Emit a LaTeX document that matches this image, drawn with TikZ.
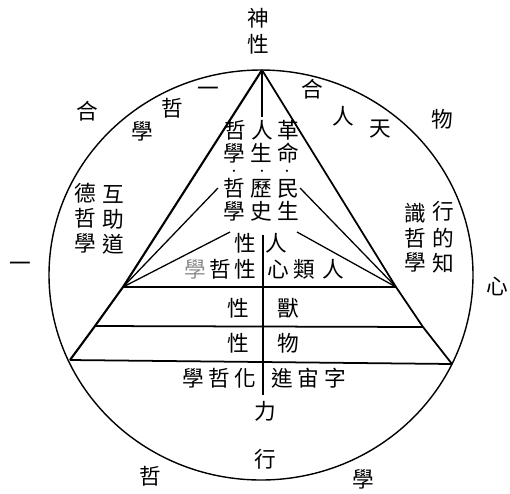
\documentclass[tikz,border=0pt]{standalone}
\usepackage{fontspec}
\newfontfamily\cjk{Noto Sans CJK TC}
\usetikzlibrary{calc}

\tikzset{
  zi/.style={font=\cjk\fontsize{18.5}{20}\selectfont, inner sep=0pt,
    text height=0.8em, text depth=0.06em},
  dim zi/.style={zi, text=black!45},
  dotzi/.style={font=\normalfont\fontsize{13}{13}\bfseries, inner sep=0pt,
    text height=0.3em, text depth=0pt},
  rim/.style={line width=1.2pt},
  side/.style={line width=1.8pt, line join=round},
  layer/.style={line width=1.5pt},
  ray/.style={line width=1.1pt}
}

\begin{document}
\begin{tikzpicture}[x=0.03cm, y=-0.03cm]
    \useasboundingbox (0,0) rectangle (510,493);

    % outer circle
    \draw[rim] (261,275) ellipse [x radius=212, y radius=205];

    % triangle corners and layer ends
    \coordinate (apex) at (262,70);
    \coordinate (L1) at (123,287);
    \coordinate (L2) at (95,326);
    \coordinate (lbase) at (70,360);
    \coordinate (R1) at (396,287);
    \coordinate (R2) at (423,327);
    \coordinate (rbase) at (452,364);

    % triangle
    \draw[side] (lbase) -- (L2) -- (L1) -- (apex);
    \draw[side, line width=1.5pt] (apex) -- (R1) -- (R2) -- (rbase);
    \draw[layer] (lbase) -- (rbase);
    \draw[layer] (L1) -- (R1);
    \draw[layer] (L2) -- (R2);

    % rays from the side corners
    \coordinate (la) at (218,188);
    \coordinate (lb) at (230,232);
    \coordinate (ra) at (300,188);
    \coordinate (rb) at (297,232);
    \draw[ray] (L1) -- (la);
    \draw[ray] (L1) -- (lb);
    \draw[ray] (R1) -- (ra);
    \draw[ray] (R1) -- (rb);

    % middle divider
    \coordinate (vtop) at (262,117);
    \coordinate (vmid) at (263,235);
    \coordinate (vend) at (263,395);
    \draw[ray] (apex) -- (vtop);
    \draw[ray] (vmid) -- (vend);

    % top label
    \node[zi] (shen) at (258,22) {神};
    \node[zi] (shenxing) at (258,48) {性};

    % outer ring, upper left
    \node[zi] (ul1) at (87,115) {合};
    \node[zi] (ul2) at (142,135) {學};
    \node[zi] (ul3) at (172,112) {哲};
    \node[zi] (ul4) at (208,92) {一};

    % outer ring, upper right
    \node[zi] (ur1) at (312,93) {合};
    \node[zi] (ur2) at (343,120) {人};
    \node[zi] (ur3) at (380,132) {天};
    \node[zi] (ur4) at (442,123) {物};

    % outer ring, sides and bottom
    \node[zi] (lside) at (20,267) {一};
    \node[zi] (rside) at (497,290) {心};
    \node[zi] (bot1) at (150,480) {哲};
    \node[zi] (bot2) at (265,463) {行};
    \node[zi] (bot3) at (363,483) {學};

    % left columns
    \node[zi] (de1) at (85,197) {德};
    \node[zi] (de2) at (85,222) {哲};
    \node[zi] (de3) at (85,247) {學};
    \node[zi] (hu1) at (113,198) {互};
    \node[zi] (hu2) at (113,223) {助};
    \node[zi] (hu3) at (113,248) {道};

    % right columns
    \node[zi] (shi1) at (415,217) {識};
    \node[zi] (shi2) at (415,242) {哲};
    \node[zi] (shi3) at (415,266) {學};
    \node[zi] (xing1) at (443,215) {行};
    \node[zi] (xing2) at (443,242) {的};
    \node[zi] (xing3) at (443,267) {知};

    % centre columns
    \node[zi] (ca1) at (235,134) {哲};
    \node[zi] (ca2) at (234,157) {學};
    \node[dotzi] (ca3) at (234,175) {·};
    \node[zi] (ca4) at (234,192) {哲};
    \node[zi] (ca5) at (234,215) {學};
    \node[zi] (cb1) at (262,134) {人};
    \node[zi] (cb2) at (261,157) {生};
    \node[dotzi] (cb3) at (262,175) {·};
    \node[zi] (cb4) at (261,192) {歷};
    \node[zi] (cb5) at (261,215) {史};
    \node[zi] (cc1) at (288,134) {革};
    \node[zi] (cc2) at (288,157) {命};
    \node[dotzi] (cc3) at (287,175) {·};
    \node[zi] (cc4) at (288,192) {民};
    \node[zi] (cc5) at (288,215) {生};

    % human layer
    \node[zi] (h1) at (245,247) {性};
    \node[zi] (h2) at (276,247) {人};
    \node[dim zi] (h3) at (195,273) {學};
    \node[zi] (h4) at (220,273) {哲};
    \node[zi] (h5) at (245,273) {性};
    \node[zi] (h6) at (278,273) {心};
    \node[zi] (h7) at (304,273) {類};
    \node[zi] (h8) at (333,273) {人};

    % beast and matter layers
    \node[zi] (b1) at (238,312) {性};
    \node[zi] (b2) at (288,312) {獸};
    \node[zi] (m1) at (238,347) {性};
    \node[zi] (m2) at (288,347) {物};

    % base row
    \node[zi] (e1) at (193,382) {學};
    \node[zi] (e2) at (219,382) {哲};
    \node[zi] (e3) at (245,382) {化};
    \node[zi] (e4) at (282,382) {進};
    \node[zi] (e5) at (308,382) {宙};
    \node[zi] (e6) at (335,382) {字};
    \node[zi] (li) at (265,415) {力};
\end{tikzpicture}
\end{document}
